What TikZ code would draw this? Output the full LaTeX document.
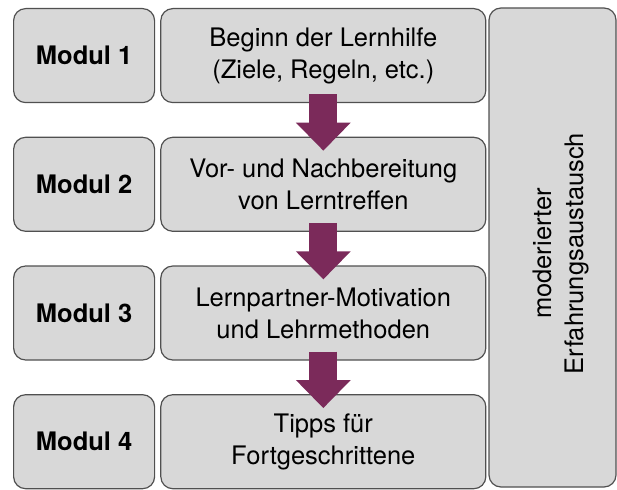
\documentclass[tikz,border=0pt]{standalone}
\usepackage{fontspec}
\setmainfont{TeX Gyre Heros}
\usepackage{tikz}
\usetikzlibrary{calc, positioning, arrows.meta}
\definecolor{kasten}{RGB}{216,216,216}
\definecolor{rand}{RGB}{80,80,80}
\definecolor{pfeil}{RGB}{123,42,90}
\tikzset{>=latex}
\newcommand{\schrift}{\fontsize{25.5}{32}\selectfont}

\begin{document}
\begin{tikzpicture}[x=1pt, y=1pt,
box/.style={draw=rand, fill=kasten, line width=1.2pt, rounded corners=12pt, minimum height=94pt, inner sep=0pt, align=center, font=\schrift},
modul/.style={box, minimum width=141pt, font=\schrift\bfseries},
inhalt/.style={box, minimum width=325pt},
folge/.style={draw=pfeil, line width=28pt, -{Triangle[length=28pt, width=53pt]}, shorten <=-9pt, shorten >=-14pt}]
\useasboundingbox (0,0) rectangle (617,-489);
\node[modul, anchor=north west] (mod1) at (13,-8) {Modul 1};
\node[modul, below=33.5pt of mod1] (mod2) {Modul 2};
\node[modul, below=33.5pt of mod2] (mod3) {Modul 3};
\node[modul, below=33.5pt of mod3] (mod4) {Modul 4};
\node[inhalt, right=5pt of mod1] (inh1) {Beginn der Lernhilfe\\(Ziele, Regeln, etc.)};
\node[inhalt, right=5pt of mod2] (inh2) {Vor- und Nachbereitung\\von Lerntreffen};
\node[inhalt, right=5pt of mod3] (inh3) {Lernpartner-Motivation\\und Lehrmethoden};
\node[inhalt, right=5pt of mod4] (inh4) {Tipps für\\Fortgeschrittene};
\node[box, minimum width=127pt, minimum height=479pt] (austausch) at (552.5,-247.5) {};
\node[rotate=90, align=center, font=\schrift, inner sep=0pt] (austauschtext) at ($(austausch.center)+(8,-6)$) {moderierter\\Erfahrungsaustausch};
% Pfeile zwischen den Modulen
\foreach \i/\j in {1/2, 2/3, 3/4}
  \draw[folge] (inh\i.south) -- (inh\j.north);
\end{tikzpicture}
\end{document}
